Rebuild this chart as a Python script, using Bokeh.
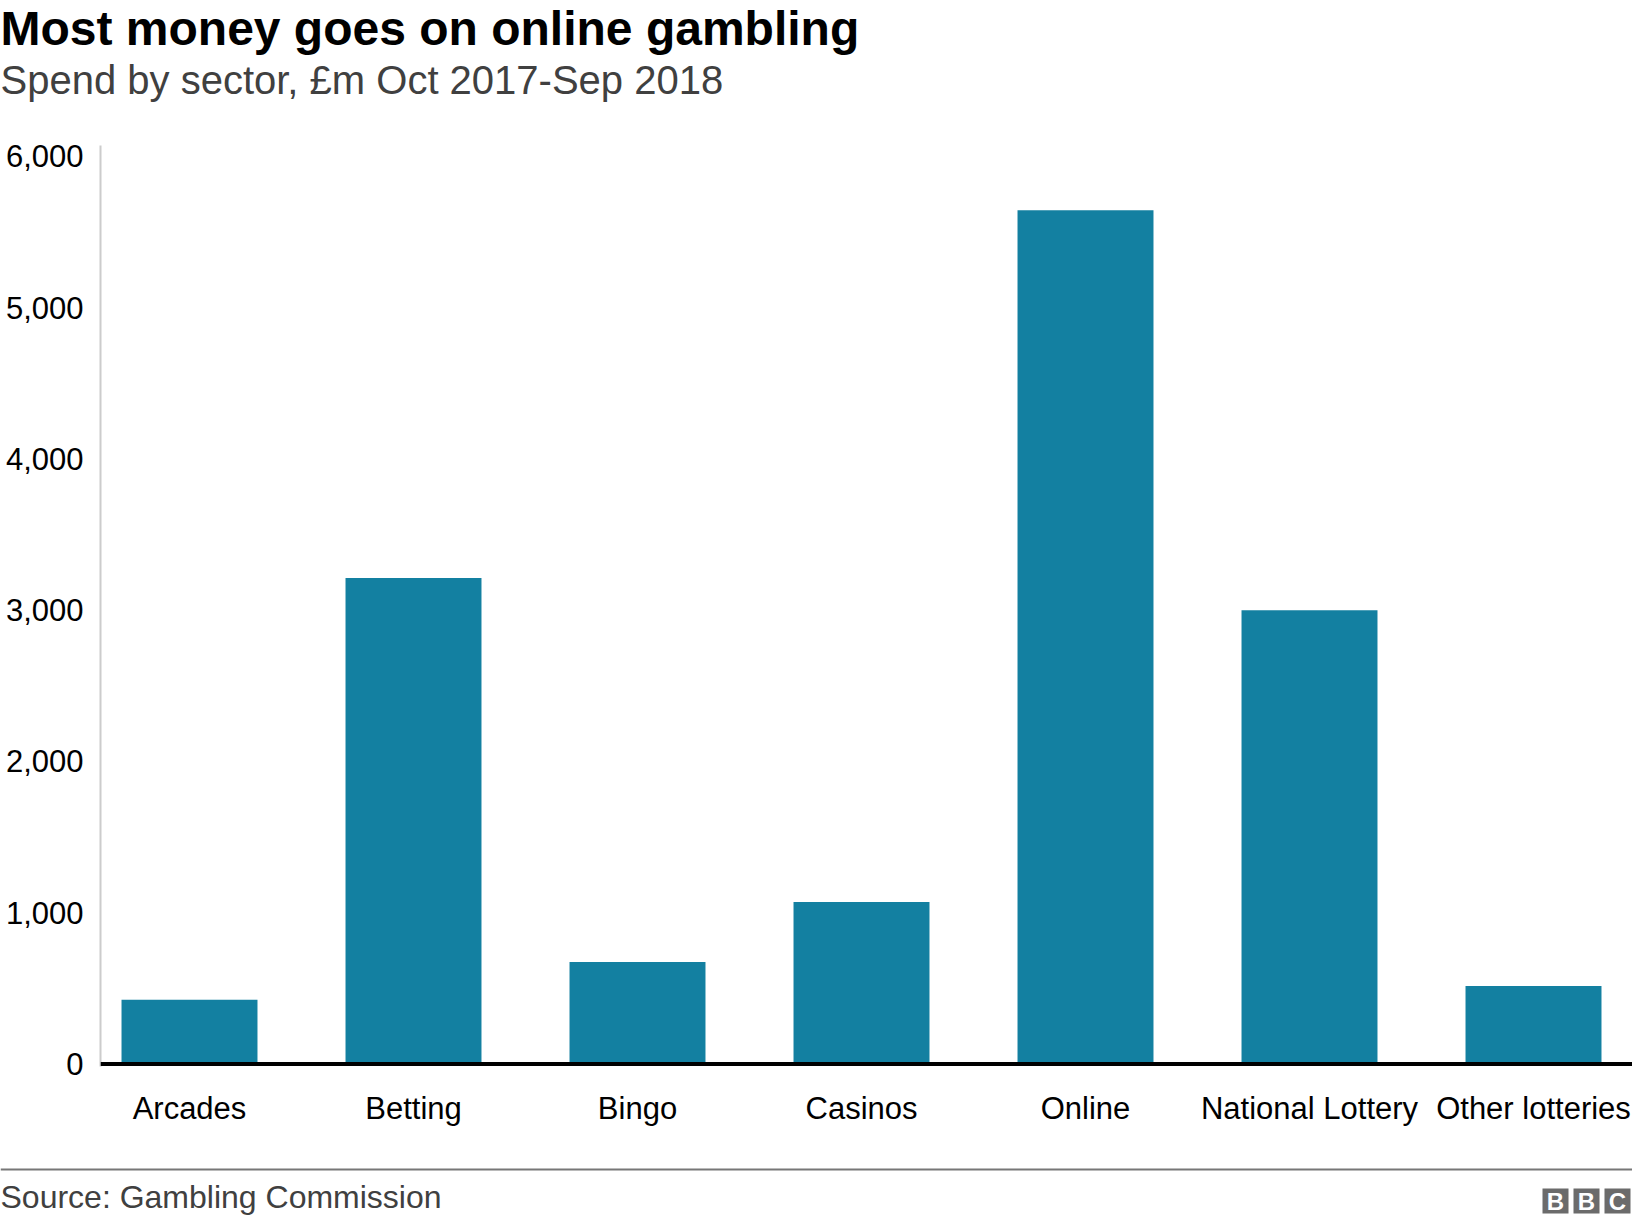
from bokeh.plotting import figure
from bokeh.layouts import column
from bokeh.models import Range1d, FixedTicker, NumeralTickFormatter, Span, Label
from bokeh.embed import file_html
from bokeh.resources import INLINE

# ---- data ----
categories = ["Arcades", "Betting", "Bingo", "Casinos", "Online", "National Lottery", "Other lotteries"]
spend = [424, 3212, 675, 1071, 5644, 3000, 515]
y_ticks = [0, 1000, 2000, 3000, 4000, 5000, 6000]

title_text = "Most money goes on online gambling"
subtitle_text = "Spend by sector, \u00a3m Oct 2017-Sep 2018"
source_text = "Source: Gambling Commission"
logo_letters = ["B", "B", "C"]

FONT = "Liberation Sans"
BAR = "#1380A1"
W = 1632
H_HEAD, H_MAIN, H_FOOT = 120, 1015, 89


def no_align(f):
    try:
        f.frame_align = False
    except Exception:
        pass


def blank(height, y0, y1):
    f = figure(width=W, height=height, output_backend="svg", toolbar_location=None,
               x_range=Range1d(0, W), y_range=Range1d(y1, y0),
               min_border=0, min_border_left=0, min_border_right=0,
               min_border_top=0, min_border_bottom=0,
               x_axis_location=None, y_axis_location=None)
    f.outline_line_color = None
    f.grid.visible = False
    f.background_fill_color = "white"
    f.border_fill_color = "white"
    no_align(f)
    return f


# ---- header ----
head = blank(H_HEAD, 0, H_HEAD)
head.add_layout(Label(x=0, y=28, text=title_text, text_align="left", text_baseline="alphabetic",
                      text_font=FONT, text_font_size="48px", text_font_style="bold",
                      text_color="#000000"))
head.add_layout(Label(x=0, y=79, text=subtitle_text, text_align="left", text_baseline="alphabetic",
                      text_font=FONT, text_font_size="40px", text_color="#404040"))

# ---- main chart ----
p = figure(width=W, height=H_MAIN, output_backend="svg", toolbar_location=None,
           x_range=Range1d(-0.39732, 6.44196), y_range=Range1d(-16.5, 6071.5),
           min_border_left=100, min_border_right=0, min_border_top=25,
           min_border_bottom=69)
p.outline_line_color = None
p.grid.visible = False
p.background_fill_color = "white"
p.border_fill_color = "white"
no_align(p)

xs = list(range(len(categories)))
p.vbar(x=xs, top=spend, bottom=0, width=0.607, fill_color=BAR, line_color=None)

ya = p.yaxis[0]
ya.ticker = FixedTicker(ticks=y_ticks)
ya.formatter = NumeralTickFormatter(format="0,0")
ya.axis_line_color = "#cccccc"
ya.axis_line_width = 2
ya.major_tick_line_color = None
ya.minor_tick_line_color = None
ya.major_tick_out = 0
ya.major_tick_in = 0
ya.major_label_standoff = 17
ya.major_label_text_font = FONT
ya.major_label_text_font_size = "31px"
ya.major_label_text_color = "#000000"

xa = p.xaxis[0]
xa.ticker = FixedTicker(ticks=xs)
xa.major_label_overrides = {i: c for i, c in enumerate(categories)}
xa.axis_line_color = None
xa.major_tick_line_color = None
xa.minor_tick_line_color = None
xa.major_tick_out = 0
xa.major_tick_in = 0
xa.major_label_standoff = 24
xa.major_label_text_font = FONT
xa.major_label_text_font_size = "31px"
xa.major_label_text_color = "#000000"

p.add_layout(Span(location=0, dimension="width", line_color="#000000", line_width=4))

# ---- footer ----
top = H_HEAD + H_MAIN
foot = blank(H_FOOT, top, top + H_FOOT)
foot.quad(left=[0], right=[W], top=[1168], bottom=[1170], fill_color="#777777", line_color=None)
foot.add_layout(Label(x=0, y=1196, text=source_text, text_align="left", text_baseline="alphabetic",
                      text_font=FONT, text_font_size="32px", text_color="#404040"))
for k, letter in enumerate(logo_letters):
    left = 1542 + 31 * k
    foot.quad(left=[left], right=[left + 26], top=[1188], bottom=[1213],
              fill_color="#6b6b6b", line_color=None)
    foot.add_layout(Label(x=left + 13, y=1201, text=letter, text_align="center",
                          text_baseline="middle", text_font=FONT, text_font_size="24px",
                          text_font_style="bold", text_color="#ffffff"))

layout = column(head, p, foot, spacing=0)
open("out.html", "w").write(file_html(layout, INLINE))
